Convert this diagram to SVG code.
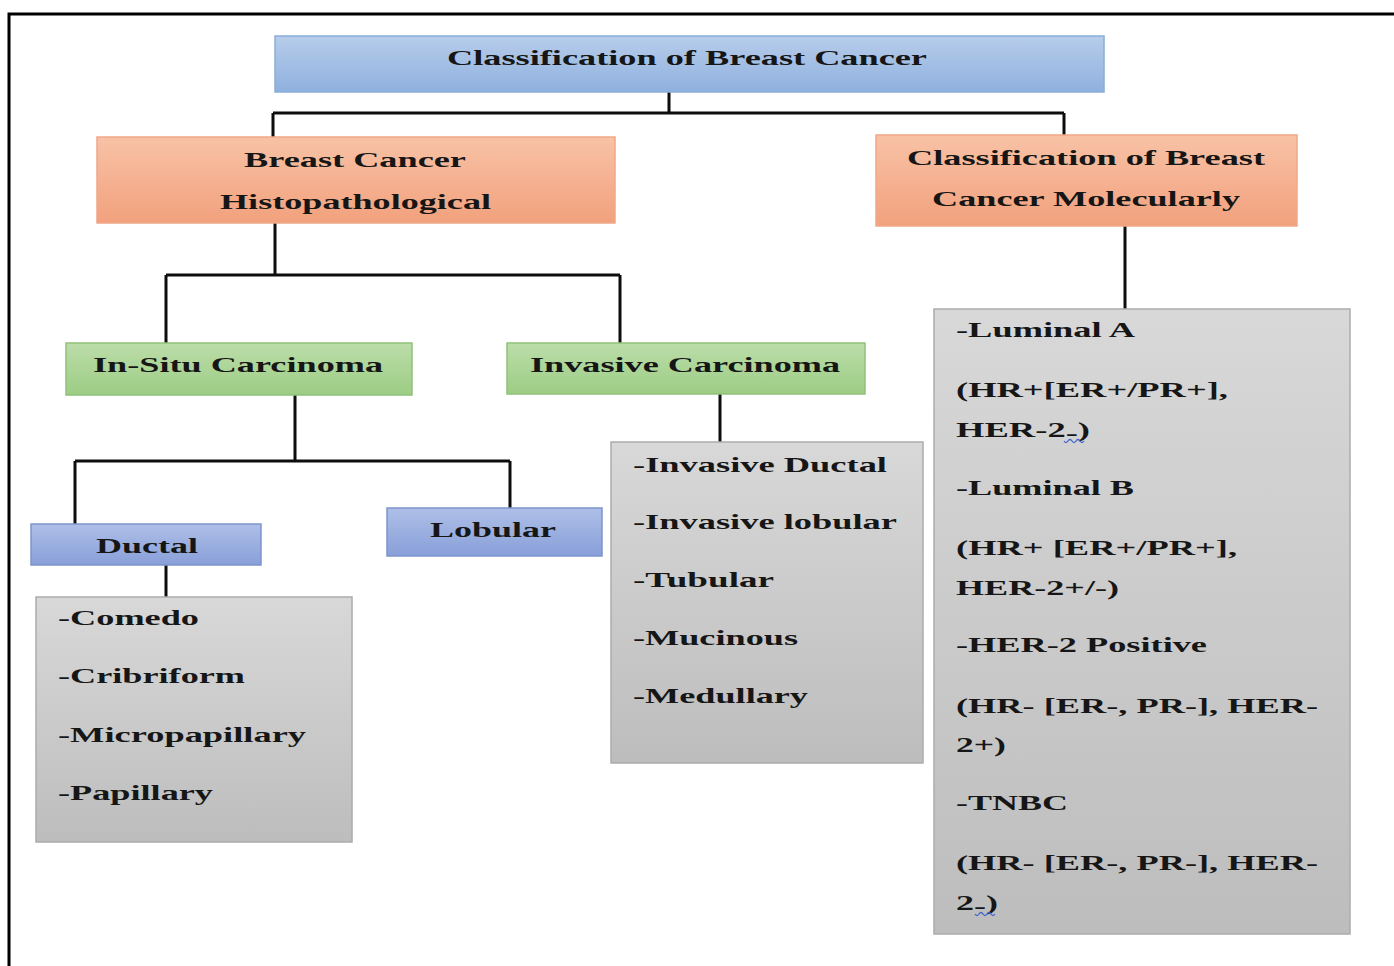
<svg xmlns="http://www.w3.org/2000/svg" width="1394" height="966" viewBox="0 0 1394 966">
  <defs>
    <linearGradient id="gBlue" x1="0" y1="0" x2="0" y2="1">
      <stop offset="0" stop-color="#b7cdea"/>
      <stop offset="1" stop-color="#8fb1df"/>
    </linearGradient>
    <linearGradient id="gOrange" x1="0" y1="0" x2="0" y2="1">
      <stop offset="0" stop-color="#f8c2a6"/>
      <stop offset="1" stop-color="#f2a17d"/>
    </linearGradient>
    <linearGradient id="gGreen" x1="0" y1="0" x2="0" y2="1">
      <stop offset="0" stop-color="#bcddaa"/>
      <stop offset="1" stop-color="#9ccd84"/>
    </linearGradient>
    <linearGradient id="gPurple" x1="0" y1="0" x2="0" y2="1">
      <stop offset="0" stop-color="#aebfe8"/>
      <stop offset="1" stop-color="#889fd8"/>
    </linearGradient>
    <linearGradient id="gGray" x1="0" y1="0" x2="0" y2="1">
      <stop offset="0" stop-color="#d8d8d8"/>
      <stop offset="1" stop-color="#bdbdbd"/>
    </linearGradient>
  </defs>
  <style>
    text { font-family: "Liberation Serif", "Times New Roman", serif; font-weight: bold; fill: #161616; font-size: 22px; }
    .blue { fill: url(#gBlue); stroke: #8aaed8; stroke-width: 1.5; }
    .orange { fill: url(#gOrange); stroke: #f0a888; stroke-width: 1.5; }
    .green { fill: url(#gGreen); stroke: #90c17a; stroke-width: 1.5; }
    .purple { fill: url(#gPurple); stroke: #7d95cc; stroke-width: 1.5; }
    .gray { fill: url(#gGray); stroke: #acacac; stroke-width: 1.5; }
    .conn { fill: none; stroke: #0d0d0d; stroke-width: 3; }
    .squig { fill: none; stroke: #3f63cc; stroke-width: 1.3; }
  </style>
  <rect width="1394" height="966" fill="#ffffff"/>
  <path d="M9,966 V14 H1394" fill="none" stroke="#000" stroke-width="3"/>

  <g id="connectors">
    <path class="conn" d="M669,92 V113 M273,113 H1064 M273,113 V137 M1064,113 V135"/>
    <path class="conn" d="M275,223 V275 M166,275 H620 M166,275 V343 M620,275 V343"/>
    <path class="conn" d="M1125,226 V309"/>
    <path class="conn" d="M295,395 V461 M75,461 H510 M75,461 V524 M510,461 V508"/>
    <path class="conn" d="M166,565 V597"/>
    <path class="conn" d="M720,394 V442"/>
  </g>

  <g id="root">
    <rect class="blue" x="275" y="36" width="829" height="56"/>
    <text x="447" y="65" textLength="480" lengthAdjust="spacingAndGlyphs">Classification of Breast Cancer</text>
  </g>

  <g id="histo">
    <rect class="orange" x="97" y="137" width="518" height="86"/>
    <text x="244" y="167" textLength="222" lengthAdjust="spacingAndGlyphs">Breast Cancer</text>
    <text x="220" y="209" textLength="271" lengthAdjust="spacingAndGlyphs">Histopathological</text>
  </g>

  <g id="molecular">
    <rect class="orange" x="876" y="135" width="421" height="91"/>
    <text x="907" y="165" textLength="358" lengthAdjust="spacingAndGlyphs">Classification of Breast</text>
    <text x="932" y="206" textLength="308" lengthAdjust="spacingAndGlyphs">Cancer Molecularly</text>
  </g>

  <g id="insitu">
    <rect class="green" x="66" y="343" width="346" height="52"/>
    <text x="93" y="372" textLength="290" lengthAdjust="spacingAndGlyphs">In-Situ Carcinoma</text>
  </g>

  <g id="invasive">
    <rect class="green" x="507" y="343" width="358" height="51"/>
    <text x="530" y="372" textLength="310" lengthAdjust="spacingAndGlyphs">Invasive Carcinoma</text>
  </g>

  <g id="ductal">
    <rect class="purple" x="31" y="524" width="230" height="41"/>
    <text x="96" y="553" textLength="102" lengthAdjust="spacingAndGlyphs">Ductal</text>
  </g>

  <g id="lobular">
    <rect class="purple" x="387" y="508" width="215" height="48"/>
    <text x="430" y="537" textLength="126" lengthAdjust="spacingAndGlyphs">Lobular</text>
  </g>

  <g id="ductal-types">
    <rect class="gray" x="36" y="597" width="316" height="245"/>
    <text x="58" y="625" textLength="141" lengthAdjust="spacingAndGlyphs">-Comedo</text>
    <text x="58" y="683" textLength="187" lengthAdjust="spacingAndGlyphs">-Cribriform</text>
    <text x="58" y="742" textLength="248" lengthAdjust="spacingAndGlyphs">-Micropapillary</text>
    <text x="58" y="800" textLength="155" lengthAdjust="spacingAndGlyphs">-Papillary</text>
  </g>

  <g id="invasive-types">
    <rect class="gray" x="611" y="442" width="312" height="321"/>
    <text x="633" y="472" textLength="254" lengthAdjust="spacingAndGlyphs">-Invasive Ductal</text>
    <text x="633" y="529" textLength="264" lengthAdjust="spacingAndGlyphs">-Invasive lobular</text>
    <text x="633" y="587" textLength="141" lengthAdjust="spacingAndGlyphs">-Tubular</text>
    <text x="633" y="645" textLength="165" lengthAdjust="spacingAndGlyphs">-Mucinous</text>
    <text x="633" y="703" textLength="175" lengthAdjust="spacingAndGlyphs">-Medullary</text>
  </g>

  <g id="molecular-types">
    <rect class="gray" x="934" y="309" width="416" height="625"/>
    <text x="956" y="337" textLength="179" lengthAdjust="spacingAndGlyphs">-Luminal A</text>
    <text x="956" y="397" textLength="272" lengthAdjust="spacingAndGlyphs">(HR+[ER+/PR+],</text>
    <text x="956" y="437" textLength="134" lengthAdjust="spacingAndGlyphs">HER-2<tspan dy="3">-</tspan><tspan dy="-3">)</tspan></text>
    <path class="squig" d="M1064,441 q2,3 4,0 t4,0 t4,0 t4,0 t4,0"/>
    <text x="956" y="495" textLength="178" lengthAdjust="spacingAndGlyphs">-Luminal B</text>
    <text x="956" y="555" textLength="281" lengthAdjust="spacingAndGlyphs">(HR+ [ER+/PR+],</text>
    <text x="956" y="595" textLength="163" lengthAdjust="spacingAndGlyphs">HER-2+/-)</text>
    <text x="956" y="652" textLength="251" lengthAdjust="spacingAndGlyphs">-HER-2 Positive</text>
    <text x="956" y="713" textLength="362" lengthAdjust="spacingAndGlyphs">(HR- [ER-, PR-], HER-</text>
    <text x="956" y="752" textLength="50" lengthAdjust="spacingAndGlyphs">2+)</text>
    <text x="956" y="810" textLength="112" lengthAdjust="spacingAndGlyphs">-TNBC</text>
    <text x="956" y="870" textLength="362" lengthAdjust="spacingAndGlyphs">(HR- [ER-, PR-], HER-</text>
    <text x="956" y="910" textLength="42" lengthAdjust="spacingAndGlyphs">2<tspan dy="3">-</tspan><tspan dy="-3">)</tspan></text>
    <path class="squig" d="M975,914 q2,3 4,0 t4,0 t4,0 t4,0 t4,0"/>
  </g>
</svg>
